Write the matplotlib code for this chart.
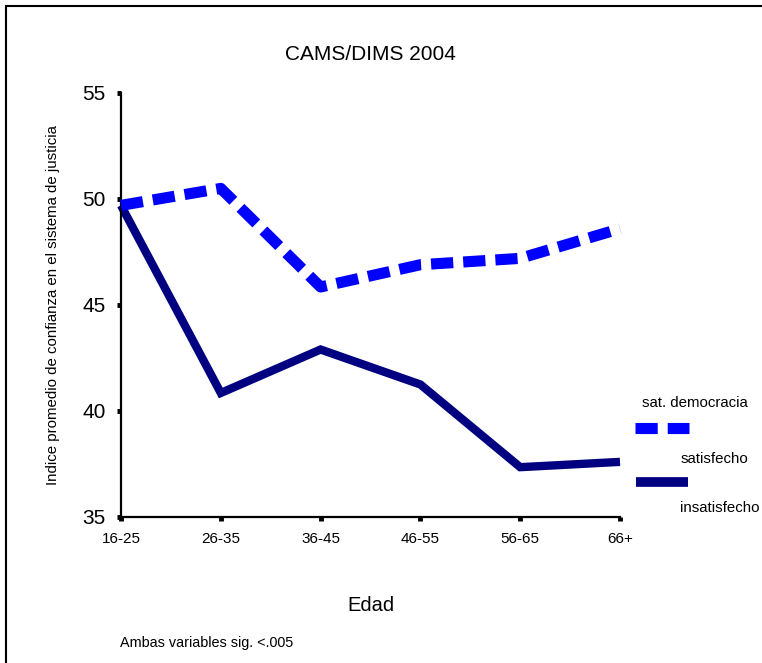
import matplotlib.pyplot as plt
from matplotlib.lines import Line2D
from matplotlib.patches import Rectangle

plt.rcParams["font.family"] = ["Liberation Sans", "DejaVu Sans"]

edades = ["16-25", "26-35", "36-45", "46-55", "56-65", "66+"]
satisfecho = [49.7, 50.5, 45.85, 46.9, 47.2, 48.6]
insatisfecho = [49.7, 40.85, 42.9, 41.25, 37.35, 37.6]
yticks = [35, 40, 45, 50, 55]

W, H = 762, 663
fig = plt.figure(figsize=(W / 100, H / 100), dpi=100)
ax = fig.add_axes([121 / W, 1 - 517 / H, 499 / W, 424 / H])

x = list(range(len(edades)))
dash = (0, (2.0, 0.9))
ax.plot(x, satisfecho, color="#0000ff", linewidth=8, linestyle=dash,
        dash_capstyle="butt", solid_joinstyle="miter", clip_on=False, zorder=3)
ax.plot(x, insatisfecho, color="#000080", linewidth=6,
        solid_joinstyle="miter", solid_capstyle="butt", clip_on=False, zorder=2)

ax.set_xlim(0, len(edades) - 1)
ax.set_ylim(35, 55)
ax.set_xticks(x)
ax.set_xticklabels(edades, fontsize=11)
ax.set_yticks(yticks)
ax.set_yticklabels([str(v) for v in yticks], fontsize=15)
ax.tick_params(axis="both", direction="out", length=3, width=3.5, color="black")
ax.tick_params(axis="x", pad=8)
ax.tick_params(axis="y", pad=8)
for s in ["top", "right"]:
    ax.spines[s].set_visible(False)
for s in ["left", "bottom"]:
    ax.spines[s].set_linewidth(1.6)

ax.set_xlabel("Edad", fontsize=14.5)
ax.xaxis.set_label_coords(0.5, -(596 - 517) / 424)
ax.set_ylabel("Indice promedio de confianza en el sistema de justicia", fontsize=10.8)
ax.yaxis.set_label_coords(-(121 - 60) / 499, 0.5)

fig.text(370 / W, 1 - 55 / H, "CAMS/DIMS 2004", fontsize=15,
         ha="center", va="center")

# leyenda a mano
fig.text(695 / W, 1 - 403 / H, "sat. democracia", fontsize=10.8, ha="center", va="center")
fig.add_artist(Line2D([635 / W, 689 / W], [1 - 428 / H] * 2, color="#0000ff",
                      linewidth=8, linestyle=dash, dash_capstyle="butt"))
fig.text(714 / W, 1 - 459 / H, "satisfecho", fontsize=10.8, ha="center", va="center")
fig.add_artist(Line2D([636 / W, 688 / W], [1 - 482 / H] * 2, color="#000080",
                      linewidth=7, solid_capstyle="butt"))
fig.text(680 / W, 1 - 508 / H, "insatisfecho", fontsize=10.8, ha="left", va="center")

fig.text(120 / W, 1 - 643 / H, "Ambas variables sig. <.005", fontsize=10.4,
         ha="left", va="center")

# marco
fig.add_artist(Rectangle((6 / W, -0.1), 1.2, 1 - 6 / H + 0.1, transform=fig.transFigure,
                         fill=False, edgecolor="black", linewidth=1.5))

fig.savefig("out.png", dpi=100)
